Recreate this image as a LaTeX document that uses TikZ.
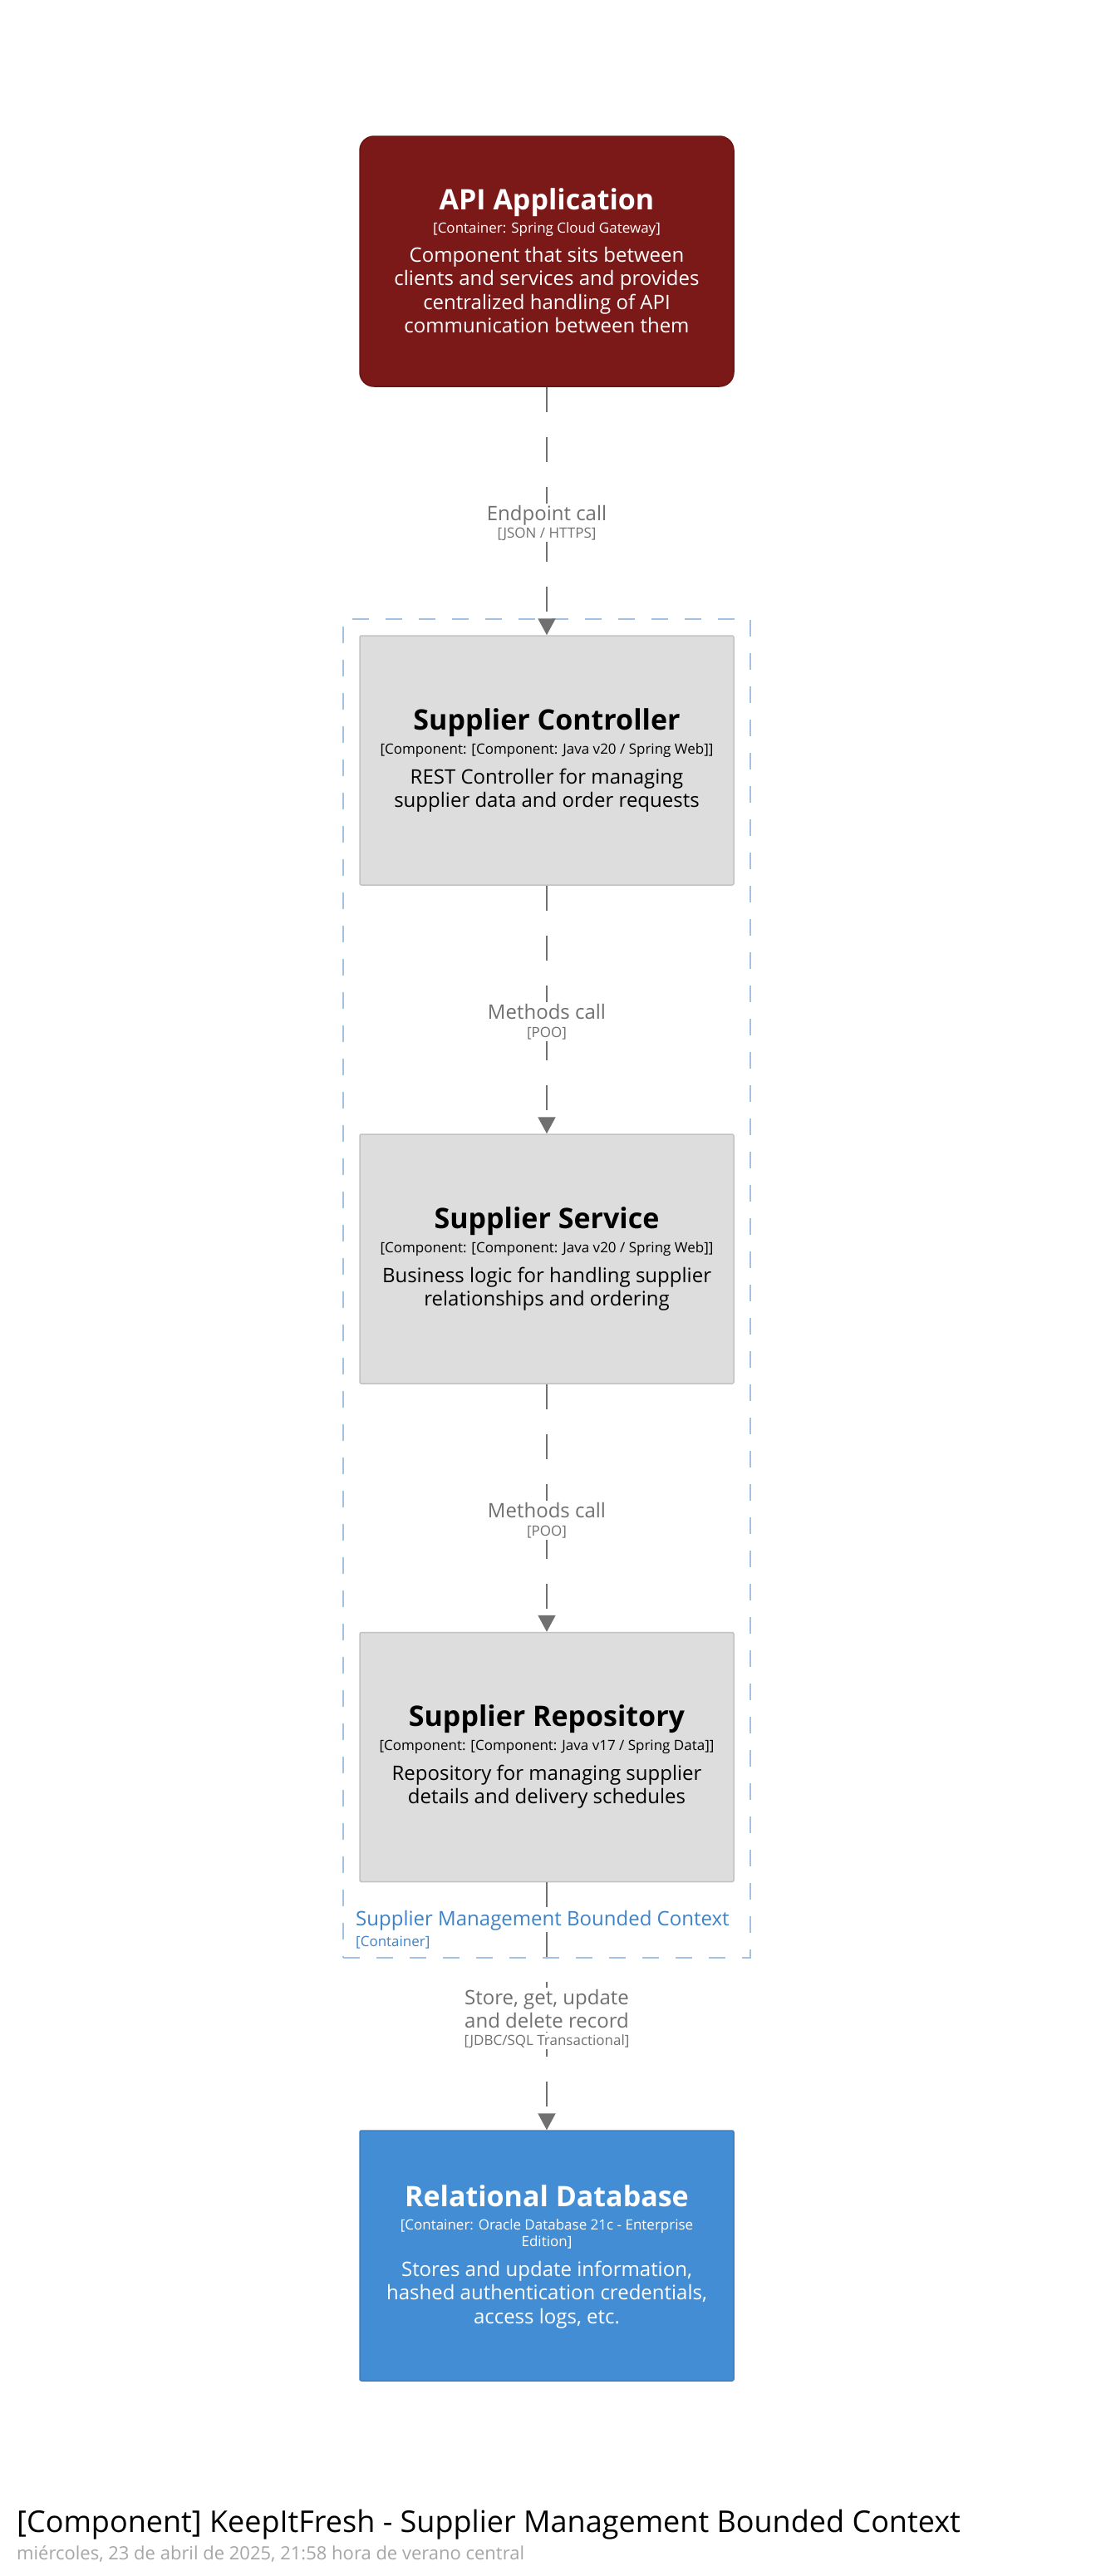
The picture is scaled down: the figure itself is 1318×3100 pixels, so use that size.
\documentclass[tikz,border=0pt]{standalone}
\usepackage{fontspec}
\setmainfont{Open Sans}
\usetikzlibrary{arrows.meta}
\definecolor{apired}{HTML}{7B1818}
\definecolor{apiredline}{HTML}{6A1414}
\definecolor{compfill}{HTML}{DDDDDD}
\definecolor{compline}{HTML}{C2C2C2}
\definecolor{dbfill}{HTML}{438DD5}
\definecolor{dbline}{HTML}{3C7FC0}
\definecolor{bndline}{HTML}{A3C2E3}
\definecolor{bndtext}{HTML}{3E82C8}
\definecolor{conngray}{HTML}{707070}
\definecolor{labgray}{HTML}{707070}
\definecolor{dategray}{HTML}{A6A6A6}
\newcommand{\fs}[2]{\fontsize{#1}{#2}\selectfont}
\begin{document}
\begin{tikzpicture}[x=1pt,y=-1pt,
  elem/.style={line width=1.5pt, minimum width=450pt, inner sep=0pt},
  apibox/.style={elem, fill=apired, draw=apiredline, rounded corners=17pt, minimum height=301pt},
  compbox/.style={elem, fill=compfill, draw=compline, rounded corners=2pt, minimum height=300pt},
  dbbox/.style={elem, fill=dbfill, draw=dbline, rounded corners=2pt, minimum height=301pt},
  bndbox/.style={draw=bndline, line width=2pt, dash pattern=on 20pt off 20pt, minimum width=490pt, minimum height=1611pt, inner sep=0pt},
  txt/.style={anchor=base, inner sep=0pt},
  ttl/.style={txt, font=\bfseries\fs{34}{40}},
  ster/.style={txt, font=\fs{17}{20}},
  desc/.style={txt, font=\fs{24}{29}},
  conn/.style={draw=conngray, line width=2pt, dash pattern=on 30pt off 30pt, -{Triangle[width=21pt,length=20pt]}},
  lab/.style={anchor=base, fill=white, inner xsep=2pt, inner ysep=2pt, text=labgray, font=\fs{24}{29}},
  tech/.style={anchor=base, fill=white, inner xsep=2pt, inner ysep=2pt, text=labgray, font=\fs{17}{20}},
  bndlab/.style={anchor=base west, inner sep=0pt, text=bndtext}
]
\useasboundingbox (0,0) rectangle (1318,3100);
\fill[white] (0,0) rectangle (1318,3100);

% boundary
\node[bndbox] (bnd) at (658,1550.5) {};

% boxes
\node[apibox] (api) at (658,314.5) {};
\node[compbox] (ctrl) at (658,915) {};
\node[compbox] (svc) at (658,1515) {};
\node[compbox] (repo) at (658,2114.5) {};
\node[dbbox] (db) at (658,2714.5) {};

% API text
\node[ttl, text=white] (apit) at (658,252) {API Application};
\node[ster, text=white] (apis) at (658,280) {[Container: Spring Cloud Gateway]};
\node[desc, text=white] (apid1) at (658,315) {Component that sits between};
\node[desc, text=white] (apid2) at (658,343.5) {clients and services and provides};
\node[desc, text=white] (apid3) at (658,372) {centralized handling of API};
\node[desc, text=white] (apid4) at (658,400.5) {communication between them};

% Controller text
\node[ttl] (ctrlt) at (658,878) {Supplier Controller};
\node[ster] (ctrls) at (658,907) {[Component: [Component: Java v20 / Spring Web]]};
\node[desc] (ctrld1) at (658,943) {REST Controller for managing};
\node[desc] (ctrld2) at (658,971) {supplier data and order requests};

% Service text
\node[ttl] (svct) at (658,1478) {Supplier Service};
\node[ster] (svcs) at (658,1507) {[Component: [Component: Java v20 / Spring Web]]};
\node[desc] (svcd1) at (658,1543) {Business logic for handling supplier};
\node[desc] (svcd2) at (658,1571) {relationships and ordering};

% Repository text
\node[ttl] (repot) at (658,2077) {Supplier Repository};
\node[ster] (repos) at (658,2106) {[Component: [Component: Java v17 / Spring Data]]};
\node[desc] (repod1) at (658,2142) {Repository for managing supplier};
\node[desc] (repod2) at (658,2170) {details and delivery schedules};

% DB text
\node[ttl, text=white] (dbt) at (658,2655) {Relational Database};
\node[ster, text=white] (dbs1) at (658,2683) {[Container: Oracle Database 21c - Enterprise};
\node[ster, text=white] (dbs2) at (658,2703) {Edition]};
\node[desc, text=white] (dbd1) at (658,2739) {Stores and update information,};
\node[desc, text=white] (dbd2) at (658,2767.5) {hashed authentication credentials,};
\node[desc, text=white] (dbd3) at (658,2796) {access logs, etc.};

% boundary label
\node[bndlab, font=\fs{24}{29}] (bndl1) at (428,2317) {Supplier Management Bounded Context};
\node[bndlab, font=\fs{17}{20}] (bndl2) at (428,2342) {[Container]};

% connectors
\draw[conn] (api.south) -- (ctrl.north);
\draw[conn] (ctrl.south) -- (svc.north);
\draw[conn] (svc.south) -- (repo.north);
\draw[conn] (repo.south) -- (db.north);

% connector labels
\node[lab] (l1a) at (658,626) {Endpoint call};
\node[tech] (l1b) at (658,647) {[JSON / HTTPS]};
\node[lab] (l2a) at (658,1226) {Methods call};
\node[tech] (l2b) at (658,1248) {[POO]};
\node[lab] (l3a) at (658,1826) {Methods call};
\node[tech] (l3b) at (658,1848) {[POO]};
\node[lab] (l4a) at (658,2412) {Store, get, update};
\node[lab] (l4b) at (658,2440) {and delete record};
\node[tech] (l4c) at (658,2461) {[JDBC/SQL Transactional]};

% title
\node[anchor=base west, inner sep=0pt, font=\fs{36}{43}] (title) at (20,3047) {[Component] KeepItFresh - Supplier Management Bounded Context};
\node[anchor=base west, inner sep=0pt, font=\fs{22}{26}, text=dategray] (date) at (20,3080) {miércoles, 23 de abril de 2025, 21:58 hora de verano central};
\end{tikzpicture}
\end{document}
